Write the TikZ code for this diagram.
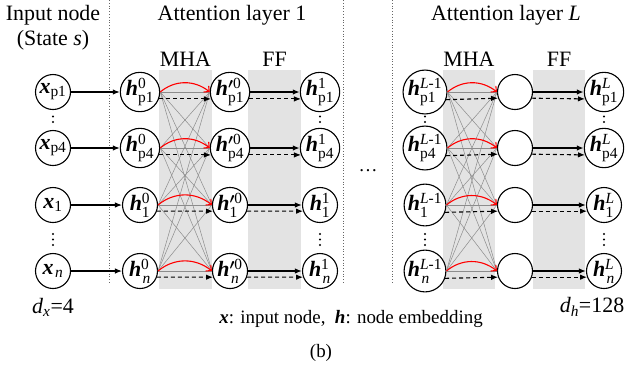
\documentclass[tikz,border=0pt]{standalone}
\usepackage{amsmath}
\usepackage{fontspec}
\setmainfont{Liberation Serif}
\usetikzlibrary{arrows.meta,bending}
\newcommand\bv[1]{\textbf{\textit{#1}}}
% script-sized pieces of a node label
\newcommand\scr[1]{\text{\fontsize{15.5}{16}\selectfont #1}}
\newcommand\lab[3]{\bv{#1}\ensuremath{^{#2}_{\raisebox{-1.5bp}{\scr{#3}}}}}
\begin{document}
\begin{tikzpicture}[x=1bp,y=-1bp,
  nd/.style={circle,draw,line width=1.1bp,minimum size=35bp,inner sep=0pt,fill=white,
    font=\fontsize{22}{24}\selectfont},
  band/.style={fill=black!11},
  sep/.style={draw=black!60,dotted,line width=0.8bp},
  tip/.style={-{Latex[length=7bp,width=5.5bp]}},
  inarrow/.style={tip,line width=1.1bp},
  ffarrow/.style={tip,line width=1.4bp},
  dsh/.style={tip,dash pattern=on 4bp off 3bp,line width=1.1bp},
  att/.style={draw=black!45,line width=0.5bp},
  selfatt/.style={red,line width=1.1bp,-{Straight Barb[length=4bp,width=8bp]},bend left=40},
  ttl/.style={font=\fontsize{22}{25}\selectfont},
  small/.style={font=\fontsize{19}{22}\selectfont},
  dotmark/.style={fill=black},
]
\useasboundingbox (0,0) rectangle (627,369);

% shaded MHA / FF bands
\fill[band] (159,70) rectangle (212,289);
\fill[band] (248,70) rectangle (301,289);
\fill[band] (443,70) rectangle (495,289);
\fill[band] (533,70) rectangle (585,289);

% dotted separators
\draw[sep] (109,0) -- (109,283);
\draw[sep] (343,0) -- (343,283);
\draw[sep] (392,0) -- (392,283);

% headings
\node[ttl] (tin) at (53,15) {Input node};
\node[ttl] (tst) at (53,40) {(State \textit{s})};
\node[ttl] (tla) at (232,15) {Attention layer 1};
\node[ttl] (tlb) at (506,15) {Attention layer \textit{L}};
\node[ttl] (mha1) at (185.5,59) {MHA};
\node[ttl] (ff1) at (274.5,59) {FF};
\node[ttl] (mhaL) at (469,59) {MHA};
\node[ttl] (ffL) at (559,59) {FF};

% node columns
\foreach \r/\y/\sb in {p1/92/p1, p4/148/p4, r1/205/1, rn/271/\kern1.5bp\textit{n}} {
  \node[nd] (x\r) at (53,\y) {\bv{x}\ensuremath{_{\scr{\sb}}}};
  \node[nd] (a\r) at (140,\y) {\lab{h}{\scr{0}}{\sb}};
  \node[nd] (b\r) at (230,\y) {\lab{h}{\boldsymbol{\prime}\scr{0}}{\sb}};
  \node[nd] (c\r) at (320,\y) {\lab{h}{\scr{1}}{\sb}};
  \node[nd] (d\r) at (425,\y) {\lab{h}{\scr{\textit{L}-1}}{\sb}};
  \node[nd] (e\r) at (515,\y) {};
  \node[nd] (f\r) at (604,\y) {\lab{h}{\scr{\textit{L}}}{\sb}};
}

% vertical dots between rows
\foreach \xx in {53, 320, 425, 604} {
  \fill[dotmark] (\xx,116.5) circle (1.2bp);
  \fill[dotmark] (\xx,122) circle (1.2bp);
  \foreach \yy in {234,239.5,245}
    \fill[dotmark] (\xx,\yy) circle (1.1bp);
}
\node[small] (gap) at (368,171) {\textellipsis};

% all-to-all attention links
\foreach \i in {p1,p4,r1,rn} {
  \foreach \j in {p1,p4,r1,rn} {
    \draw[att] (a\i.east) -- (b\j.west);
    \draw[att] (d\i.east) -- (e\j.west);
  }
}

% per-node connectors
\foreach \r in {p1,p4,r1,rn} {
  \draw[inarrow] (x\r) -- (a\r);
  \draw[dsh] (a\r.-20) -- (b\r.200);
  \draw[selfatt] (a\r.east) to (b\r.west);
  \draw[ffarrow] (b\r) -- (c\r);
  \draw[dsh] (b\r.-20) -- (c\r.200);
  \draw[dsh] (d\r.-20) -- (e\r.200);
  \draw[selfatt] (d\r.east) to (e\r.west);
  \draw[ffarrow] (e\r) -- (f\r);
  \draw[dsh] (e\r.-20) -- (f\r.200);
}

% dimensions and legend
\node[ttl] (dx) at (53,307) {\textit{d}$_{\text{\textit{x}}}$=4};
\node[ttl] (dh) at (592,307) {\textit{d}$_{\text{\textit{h}}}$=128};
\node[small] (legend) at (351,319) {\bv{x}: input node,\ \ \bv{h}: node embedding};
\node[small] (cap) at (321,353) {(b)};
\end{tikzpicture}
\end{document}
